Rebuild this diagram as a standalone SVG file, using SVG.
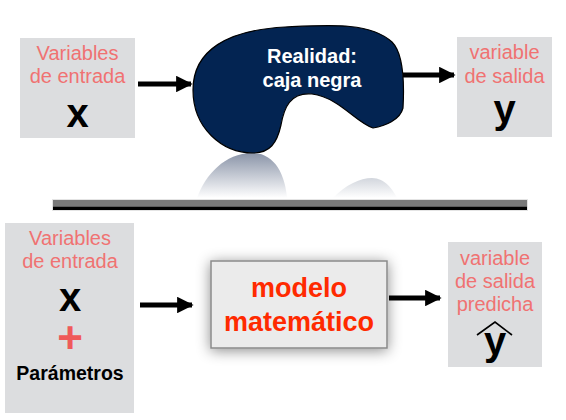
<svg xmlns="http://www.w3.org/2000/svg" width="566" height="420" viewBox="0 0 566 420">
  <defs>
    <marker id="ah" viewBox="0 0 10 10" refX="9" refY="5" markerWidth="3.3" markerHeight="3.3" orient="auto" markerUnits="strokeWidth">
      <path d="M0,0 L10,5 L0,10 Z" fill="#000"/>
    </marker>
    <linearGradient id="refl1" x1="0" y1="0" x2="0" y2="1">
      <stop offset="0" stop-color="#8a94a8"/>
      <stop offset="1" stop-color="#ffffff"/>
    </linearGradient>
    <linearGradient id="refl2" x1="0" y1="0" x2="0" y2="1">
      <stop offset="0" stop-color="#d2d6dd"/>
      <stop offset="1" stop-color="#ffffff"/>
    </linearGradient>
    <filter id="shadow" x="-30%" y="-40%" width="160%" height="180%">
      <feDropShadow dx="0" dy="2" stdDeviation="7" flood-color="#000" flood-opacity="0.45"/>
    </filter>
    <style>
      .box { fill: #dcdddf; }
      .lbl { font-family: "Liberation Sans", Arial, sans-serif; font-size: 20px; fill: #f07272; text-anchor: middle; }
      .var { font-family: "Liberation Sans", Arial, sans-serif; font-size: 40px; font-weight: bold; fill: #000; text-anchor: middle; }
      .blobtxt { font-family: "Liberation Sans", Arial, sans-serif; font-size: 20px; font-weight: bold; fill: #fff; text-anchor: middle; }
      .red { font-family: "Liberation Sans", Arial, sans-serif; font-size: 27px; font-weight: bold; fill: #ff2a00; text-anchor: middle; }
      .conn { stroke: #000; stroke-width: 5; fill: none; marker-end: url(#ah); }
    </style>
  </defs>
  <rect width="566" height="420" fill="#fff"/>

  <g id="entrada-top">
    <rect class="box" x="20" y="38" width="115" height="100"/>
    <text class="lbl" x="77.5" y="60">Variables</text>
    <text class="lbl" x="77.5" y="83">de entrada</text>
    <text class="var" x="77.5" y="127">x</text>
  </g>

  <g id="realidad">
    <path d="M197,198 C205,175 225,153 252,153 C275,153 285,175 287,198 Z" fill="url(#refl1)"/>
    <path d="M333,198 C345,185 360,178 372,178 C385,178 393,190 397,198 Z" fill="url(#refl2)"/>
    <path d="M253,153 C222,153 193,128 193,90 C193,50 228,30 285,27 C330,25 370,22 392,42 C405,55 404,90 403,108 C400,120 385,126 373,128 C355,122 340,98 312,94 C290,92 284,108 281,125 C277,143 270,153 253,153 Z" fill="#032452" stroke="#000" stroke-width="1.2"/>
    <text class="blobtxt" x="312" y="63">Realidad:</text>
    <text class="blobtxt" x="312" y="87">caja negra</text>
  </g>

  <g id="salida-top">
    <rect class="box" x="457" y="37" width="95" height="100"/>
    <text class="lbl" x="504.5" y="59">variable</text>
    <text class="lbl" x="504.5" y="83">de salida</text>
    <text class="var" x="504.5" y="123">y</text>
  </g>

  <g id="separador">
    <rect x="52.5" y="199.5" width="475" height="11" fill="none" stroke="#e4e4e4" stroke-width="1"/>
    <rect x="53" y="200" width="474" height="6.5" fill="#7a7a7a"/>
    <rect x="53" y="206.5" width="474" height="3.5" fill="#000"/>
  </g>

  <g id="entrada-bottom">
    <rect class="box" x="5" y="223" width="129" height="190"/>
    <text class="lbl" x="70" y="245">Variables</text>
    <text class="lbl" x="70" y="268">de entrada</text>
    <text class="var" x="70" y="311">x</text>
    <text x="70" y="353" font-family="Liberation Sans, Arial, sans-serif" font-size="44" font-weight="bold" fill="#ef5a5a" text-anchor="middle">+</text>
    <text x="70" y="380" font-family="Liberation Sans, Arial, sans-serif" font-size="19.5" font-weight="bold" fill="#000" text-anchor="middle">Parámetros</text>
  </g>

  <g id="modelo">
    <rect x="211" y="261" width="176" height="87" fill="#ebebeb" stroke="#8a8a8a" stroke-width="1.5" filter="url(#shadow)"/>
    <text class="red" x="299" y="297">modelo</text>
    <text class="red" x="299" y="331">matemático</text>
  </g>

  <g id="salida-bottom">
    <rect class="box" x="448" y="242" width="94" height="125"/>
    <text class="lbl" x="495" y="265">variable</text>
    <text class="lbl" x="495" y="288">de salida</text>
    <text class="lbl" x="495" y="311">predicha</text>
    <text class="var" x="495" y="355" font-size="38">y</text>
    <polyline points="477,335 495,322 512,335" fill="none" stroke="#000" stroke-width="1.6"/>
  </g>

  <g id="connectors">
    <line class="conn" x1="138" y1="84" x2="191" y2="84"/>
    <line class="conn" x1="403" y1="75" x2="454" y2="75"/>
    <line class="conn" x1="140" y1="305" x2="192" y2="305"/>
    <line class="conn" x1="389" y1="298" x2="440" y2="298"/>
  </g>
</svg>
